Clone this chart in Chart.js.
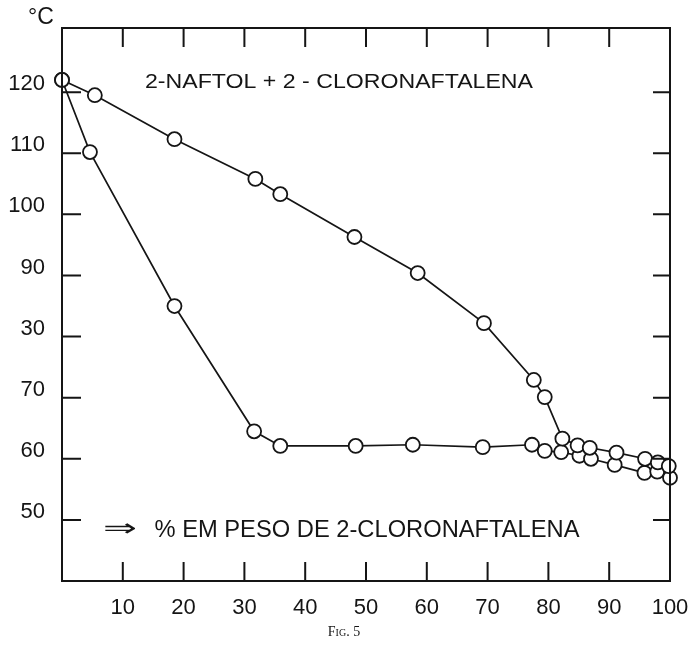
<!DOCTYPE html>
<html><head><meta charset="utf-8">
<script src="https://cdn.jsdelivr.net/npm/chart.js@4"></script>
<style>html,body{margin:0;padding:0;background:#fff}#wrap{width:692px;height:646px;position:relative}</style>
</head><body><div id="wrap"><canvas id="c" width="692" height="646"></canvas></div>
<script>
// Upper curve (liquidus)
const upperX = [0, 5.4, 18.5, 31.8, 35.9, 48.1, 58.5, 69.4, 77.6, 79.4, 82.3, 84.8, 86.8, 91.2, 95.9, 98.0, 99.8];
const upperY = [122, 119.5, 112.3, 105.8, 103.3, 96.3, 90.4, 82.2, 72.9, 70.1, 63.3, 62.2, 61.8, 61.0, 60.0, 59.4, 58.8];
// Lower curve (solidus)
const lowerX = [0, 4.6, 18.5, 31.6, 35.9, 48.3, 57.7, 69.2, 77.3, 79.4, 82.1, 85.1, 87.0, 90.9, 95.8, 97.9, 100];
const lowerY = [122, 110.2, 85.0, 64.5, 62.1, 62.1, 62.3, 61.9, 62.3, 61.3, 61.1, 60.5, 60.0, 59.0, 57.7, 57.9, 56.9];
// Tick values and labels (as printed)
const xTicks = [10, 20, 30, 40, 50, 60, 70, 80, 90, 100];
const xTickLabels = ['10', '20', '30', '40', '50', '60', '70', '80', '90', '100'];
const yTicks = [50, 60, 70, 80, 90, 100, 110, 120];
const yTickLabels = ['50', '60', '70', '30', '90', '100', '110', '120'];
const titleText = '2-NAFTOL + 2 - CLORONAFTALENA';
const axisText = '% EM PESO DE 2-CLORONAFTALENA';
const unitText = '°C';
const figText = 'Fig. 5';

const INK = '#151515';
const FONT = '"Liberation Sans", "DejaVu Sans", sans-serif';

function toPts(xs, ys) { return xs.map((x, i) => ({ x: x, y: ys[i] })); }

function fitText(ctx, text, cx, cy, width, font) {
  ctx.save();
  ctx.font = font;
  const w = ctx.measureText(text).width;
  ctx.translate(cx, cy);
  ctx.scale(width / w, 1);
  ctx.textAlign = 'center';
  ctx.textBaseline = 'middle';
  ctx.fillText(text, 0, 0);
  ctx.restore();
}

const framePlugin = {
  id: 'frame',
  afterDraw(chart) {
    const ctx = chart.ctx;
    const a = chart.chartArea;
    const xs = chart.scales.x, ys = chart.scales.y;
    const L = 19;
    ctx.save();
    ctx.strokeStyle = INK;
    ctx.lineWidth = 2;
    ctx.strokeRect(a.left, a.top, a.right - a.left, a.bottom - a.top);
    ctx.beginPath();
    xTicks.forEach(v => {
      if (v >= 100) return;
      const px = xs.getPixelForValue(v);
      ctx.moveTo(px, a.top); ctx.lineTo(px, a.top + L);
      ctx.moveTo(px, a.bottom); ctx.lineTo(px, a.bottom - L);
    });
    yTicks.forEach(v => {
      const py = ys.getPixelForValue(v);
      ctx.moveTo(a.left, py); ctx.lineTo(a.left + L, py);
      ctx.moveTo(a.right, py); ctx.lineTo(a.right - 17, py);
    });
    ctx.stroke();
    ctx.fillStyle = INK;
    fitText(ctx, titleText, 339, 82, 388, '20px ' + FONT);
    fitText(ctx, axisText, 367, 530, 425, '24px ' + FONT);
    fitText(ctx, '\u21D2', 120, 530, 34, '24px "DejaVu Sans"');
    ctx.font = '23px ' + FONT;
    ctx.textAlign = 'center'; ctx.textBaseline = 'middle';
    ctx.fillText(unitText, 41, 18);
    ctx.font = 'small-caps 14px "Liberation Serif", serif';
    ctx.fillText(figText, 344, 632);
    ctx.restore();
  }
};

const dsStyle = {
  showLine: true,
  borderColor: INK,
  borderWidth: 1.7,
  pointRadius: 7,
  pointHoverRadius: 7,
  pointBackgroundColor: '#fff',
  pointBorderColor: INK,
  pointBorderWidth: 1.8,
  tension: 0,
  clip: false
};

new Chart(document.getElementById('c'), {
  type: 'scatter',
  data: {
    datasets: [
      Object.assign({ label: 'upper', data: toPts(upperX, upperY) }, dsStyle),
      Object.assign({ label: 'lower', data: toPts(lowerX, lowerY) }, dsStyle)
    ]
  },
  options: {
    responsive: false,
    animation: false,
    devicePixelRatio: 1,
    layout: { padding: { left: 0, right: 22, top: 28, bottom: 0 } },
    plugins: { legend: { display: false }, tooltip: { enabled: false }, title: { display: false } },
    scales: {
      x: {
        type: 'linear', min: 0, max: 100, position: 'bottom',
        afterBuildTicks: s => { s.ticks = xTicks.map(v => ({ value: v })); },
        afterFit: s => { s.height = 65; s.paddingRight = 0; s.paddingLeft = 0; },
        ticks: {
          callback: (v, i) => xTickLabels[i],
          font: { size: 22, family: FONT }, color: INK,
          padding: 14, maxRotation: 0, autoSkip: false
        },
        grid: { display: false, drawTicks: false },
        border: { display: false }
      },
      y: {
        type: 'linear', min: 40, max: 130.5,
        afterBuildTicks: s => { s.ticks = yTicks.map(v => ({ value: v })); },
        afterFit: s => { s.width = 62; s.paddingTop = 0; s.paddingBottom = 0; },
        ticks: {
          callback: (v, i) => yTickLabels[i],
          font: { size: 22, family: FONT }, color: INK,
          padding: 17, labelOffset: -8, autoSkip: false
        },
        grid: { display: false, drawTicks: false },
        border: { display: false }
      }
    }
  },
  plugins: [framePlugin]
});
</script>
</body></html>
